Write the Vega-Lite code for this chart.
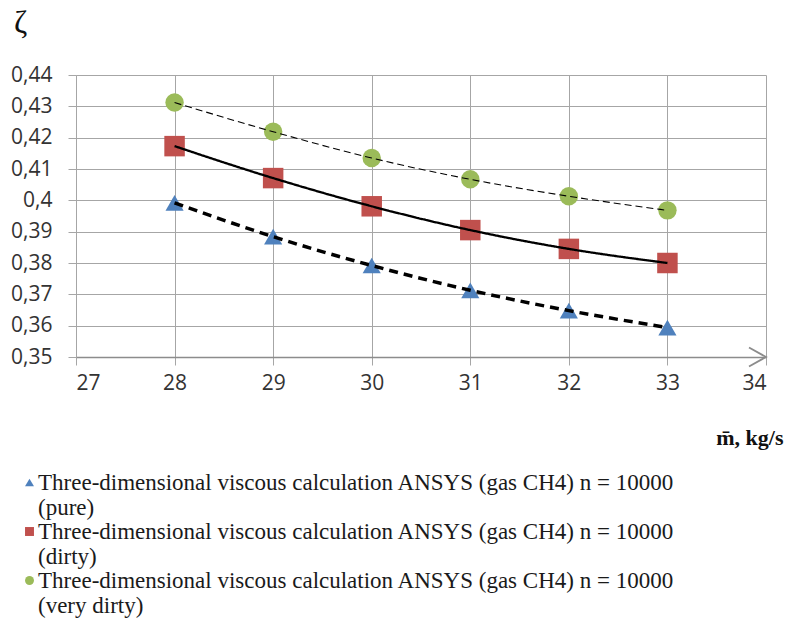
{
  "$schema": "https://vega.github.io/schema/vega-lite/v6.json",
  "width": 690,
  "height": 282,
  "autosize": {"type": "none"},
  "padding": {"left": 76, "top": 75, "right": 19, "bottom": 265},
  "background": "white",
  "data": {
    "values": [
      {"x": 28, "zeta": 0.3992, "series": "Three-dimensional viscous calculation ANSYS (gas CH4) n = 10000\n(pure)"},
      {"x": 29, "zeta": 0.3884, "series": "Three-dimensional viscous calculation ANSYS (gas CH4) n = 10000\n(pure)"},
      {"x": 30, "zeta": 0.3792, "series": "Three-dimensional viscous calculation ANSYS (gas CH4) n = 10000\n(pure)"},
      {"x": 31, "zeta": 0.3713, "series": "Three-dimensional viscous calculation ANSYS (gas CH4) n = 10000\n(pure)"},
      {"x": 32, "zeta": 0.3648, "series": "Three-dimensional viscous calculation ANSYS (gas CH4) n = 10000\n(pure)"},
      {"x": 33, "zeta": 0.3594, "series": "Three-dimensional viscous calculation ANSYS (gas CH4) n = 10000\n(pure)"},
      {"x": 28, "zeta": 0.4173, "series": "Three-dimensional viscous calculation ANSYS (gas CH4) n = 10000\n(dirty)"},
      {"x": 29, "zeta": 0.4071, "series": "Three-dimensional viscous calculation ANSYS (gas CH4) n = 10000\n(dirty)"},
      {"x": 30, "zeta": 0.3981, "series": "Three-dimensional viscous calculation ANSYS (gas CH4) n = 10000\n(dirty)"},
      {"x": 31, "zeta": 0.3905, "series": "Three-dimensional viscous calculation ANSYS (gas CH4) n = 10000\n(dirty)"},
      {"x": 32, "zeta": 0.3845, "series": "Three-dimensional viscous calculation ANSYS (gas CH4) n = 10000\n(dirty)"},
      {"x": 33, "zeta": 0.3800, "series": "Three-dimensional viscous calculation ANSYS (gas CH4) n = 10000\n(dirty)"},
      {"x": 28, "zeta": 0.4312, "series": "Three-dimensional viscous calculation ANSYS (gas CH4) n = 10000\n(very dirty)"},
      {"x": 29, "zeta": 0.4219, "series": "Three-dimensional viscous calculation ANSYS (gas CH4) n = 10000\n(very dirty)"},
      {"x": 30, "zeta": 0.4135, "series": "Three-dimensional viscous calculation ANSYS (gas CH4) n = 10000\n(very dirty)"},
      {"x": 31, "zeta": 0.4067, "series": "Three-dimensional viscous calculation ANSYS (gas CH4) n = 10000\n(very dirty)"},
      {"x": 32, "zeta": 0.4013, "series": "Three-dimensional viscous calculation ANSYS (gas CH4) n = 10000\n(very dirty)"},
      {"x": 33, "zeta": 0.3968, "series": "Three-dimensional viscous calculation ANSYS (gas CH4) n = 10000\n(very dirty)"}
    ]
  },
  "encoding": {
    "x": {
      "field": "x", "type": "quantitative",
      "scale": {"domain": [27, 34], "nice": false, "zero": false},
      "axis": {
        "values": [27, 28, 29, 30, 31, 32, 33, 34],
        "tickCount": 20,
        "format": "d",
        "labelOverlap": false,
        "title": "m\u0304, kg/s",
        "titleFont": "Liberation Serif", "titleFontSize": 22, "titleFontWeight": "bold", "titleColor": "#111",
        "titleAlign": "right", "titleAnchor": "end", "titleX": 707, "titleY": 87, "titleBaseline": "alphabetic",
        "labelFont": "Open Sans", "labelFontSize": 21, "labelColor": "#333", "labelPadding": 7,
        "tickSize": 8, "tickColor": "#a6a6a6", "domainColor": "#8c8c8c", "domainWidth": 1.6,
        "grid": true, "gridColor": "#a6a6a6", "gridWidth": 1
      }
    },
    "y": {
      "field": "zeta", "type": "quantitative",
      "scale": {"domain": [0.35, 0.44], "nice": false, "zero": false},
      "axis": {
        "values": [0.35, 0.36, 0.37, 0.38, 0.39, 0.4, 0.41, 0.42, 0.43, 0.44],
        "tickCount": 20,
        "labelExpr": "replace(format(datum.value, '.2~f'), '.', ',')",
        "labelOverlap": false,
        "title": "\u03b6",
        "titleFont": "Liberation Serif", "titleFontSize": 32, "titleFontWeight": "normal", "titleColor": "#111",
        "titleAngle": 0, "titleAlign": "center", "titleBaseline": "alphabetic", "titleX": -56, "titleY": -43,
        "labelFont": "Open Sans", "labelFontSize": 21, "labelColor": "#333", "labelPadding": 16,
        "tickSize": 8, "tickColor": "#a6a6a6", "domainColor": "#a6a6a6", "domainWidth": 1,
        "grid": true, "gridColor": "#a6a6a6", "gridWidth": 1
      }
    }
  },
  "layer": [
    {
      "transform": [{"filter": "indexof(datum.series, '(pure)') >= 0"}],
      "mark": {"type": "point", "filled": true, "opacity": 1, "strokeWidth": 0, "size": 330},
      "encoding": {
        "color": {"field": "series", "type": "nominal", "scale": {"domain": [
              "Three-dimensional viscous calculation ANSYS (gas CH4) n = 10000\n(pure)",
              "Three-dimensional viscous calculation ANSYS (gas CH4) n = 10000\n(dirty)",
              "Three-dimensional viscous calculation ANSYS (gas CH4) n = 10000\n(very dirty)"
            ], "range": ["#4f81bd", "#c0504d", "#9bbb59"]},
          "legend": {
            "title": null,
            "orient": "none", "legendX": -58, "legendY": 396,
            "direction": "vertical",
            "labelExpr": "split(datum.label, '\\n')",
            "labelFont": "Liberation Serif", "labelFontSize": 23, "labelColor": "#1a1a1a",
            "labelLimit": 1000, "labelBaseline": "middle", "labelOffset": -3,
            "symbolSize": 80, "symbolStrokeWidth": 0, "rowPadding": 0,
            "encode": {
              "symbols": {"size": {"value": 80}}
            }
          }
        },
        "shape": {"field": "series", "type": "nominal", "scale": {"domain": [
              "Three-dimensional viscous calculation ANSYS (gas CH4) n = 10000\n(pure)",
              "Three-dimensional viscous calculation ANSYS (gas CH4) n = 10000\n(dirty)",
              "Three-dimensional viscous calculation ANSYS (gas CH4) n = 10000\n(very dirty)"
            ], "range": ["triangle-up", "square", "circle"]}}
      }
    },
    {
      "transform": [{"filter": "indexof(datum.series, '(dirty)') >= 0"}],
      "mark": {"type": "point", "filled": true, "opacity": 1, "strokeWidth": 0, "size": 420},
      "encoding": {
        "color": {"field": "series", "type": "nominal"},
        "shape": {"field": "series", "type": "nominal"}
      }
    },
    {
      "transform": [{"filter": "indexof(datum.series, '(very dirty)') >= 0"}],
      "mark": {"type": "point", "filled": true, "opacity": 1, "strokeWidth": 0, "size": 340},
      "encoding": {
        "color": {"field": "series", "type": "nominal"},
        "shape": {"field": "series", "type": "nominal"}
      }
    },
    {
      "mark": {"type": "line", "color": "black", "interpolate": "monotone"},
      "encoding": {
        "detail": {"field": "series", "type": "nominal"},
        "strokeDash": {
          "field": "series", "type": "nominal",
          "scale": {
            "domain": [
              "Three-dimensional viscous calculation ANSYS (gas CH4) n = 10000\n(pure)",
              "Three-dimensional viscous calculation ANSYS (gas CH4) n = 10000\n(dirty)",
              "Three-dimensional viscous calculation ANSYS (gas CH4) n = 10000\n(very dirty)"
            ],
            "range": [[9, 6], [1, 0], [7, 4]]
          },
          "legend": null
        },
        "strokeWidth": {
          "field": "series", "type": "nominal",
          "scale": {
            "domain": [
              "Three-dimensional viscous calculation ANSYS (gas CH4) n = 10000\n(pure)",
              "Three-dimensional viscous calculation ANSYS (gas CH4) n = 10000\n(dirty)",
              "Three-dimensional viscous calculation ANSYS (gas CH4) n = 10000\n(very dirty)"
            ],
            "range": [3.5, 1.1, 1.1]
          },
          "legend": null
        }
      }
    },
    {
      "data": {"values": [{"x": 34, "zeta": 0.35}]},
      "mark": {
        "type": "point",
        "shape": "M-1,-0.56L0,0L-1,0.56",
        "size": 1156,
        "filled": false,
        "stroke": "#8c8c8c",
        "strokeWidth": 1.8,
        "opacity": 1
      },
      "encoding": {}
    }
  ],
  "config": {
    "view": {"stroke": null}
  }
}
